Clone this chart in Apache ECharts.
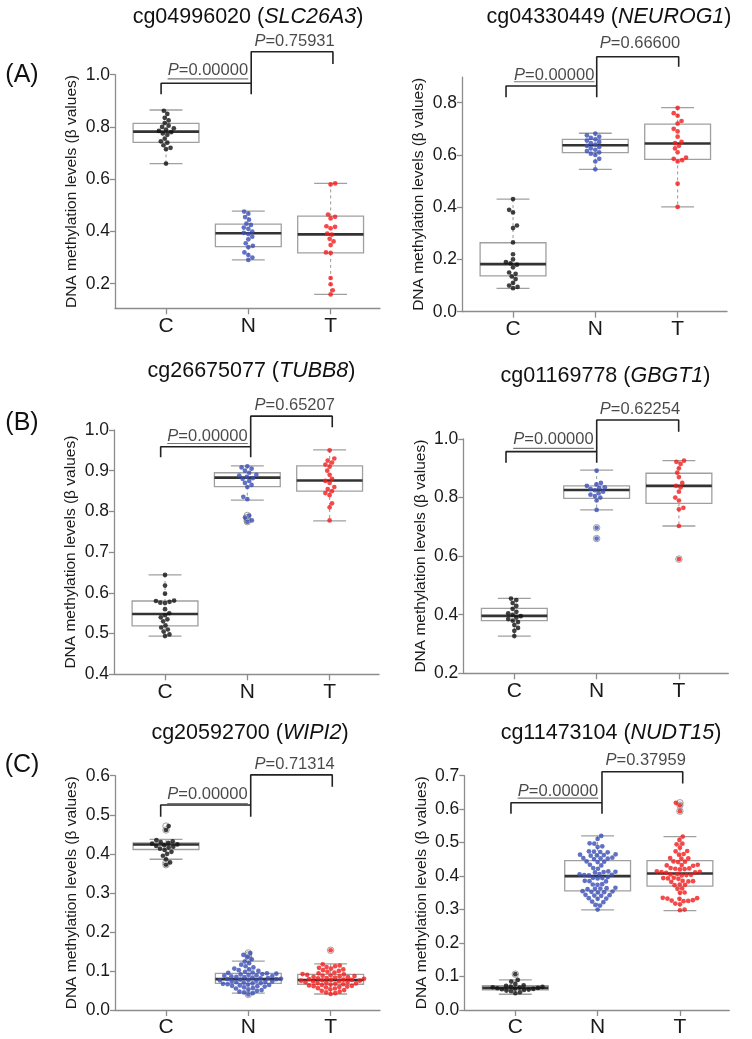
<!DOCTYPE html>
<html><head><meta charset="utf-8">
<script src="https://cdn.jsdelivr.net/npm/echarts@6/dist/echarts.min.js"></script>
<style>html,body{margin:0;padding:0;background:#fff}#c{width:752px;height:1039px}</style>
</head><body><div id="c"></div>
<script>
// ---------------- DATA ----------------
const groups = ['C', 'N', 'T'];
const probes = ['cg04996020', 'cg04330449', 'cg26675077', 'cg01169778', 'cg20592700', 'cg11473104'];
const genes = ['SLC26A3', 'NEUROG1', 'TUBB8', 'GBGT1', 'WIPI2', 'NUDT15'];
const pCN = ['0.00000', '0.00000', '0.00000', '0.00000', '0.00000', '0.00000'];
const pNT = ['0.75931', '0.66600', '0.65207', '0.62254', '0.71314', '0.37959'];
const panelTags = ['(A)', '(B)', '(C)'];
const yTitle = 'DNA methylation levels (β values)';

const yTicks1 = [0.2, 0.4, 0.6, 0.8, 1.0];
const yTicks2 = [0.0, 0.2, 0.4, 0.6, 0.8];
const yTicks3 = [0.4, 0.5, 0.6, 0.7, 0.8, 0.9, 1.0];
const yTicks4 = [0.2, 0.4, 0.6, 0.8, 1.0];
const yTicks5 = [0.0, 0.1, 0.2, 0.3, 0.4, 0.5, 0.6];
const yTicks6 = [0.0, 0.1, 0.2, 0.3, 0.4, 0.5, 0.6, 0.7];

// box statistics [lower whisker, Q1, median, Q3, upper whisker] for C, N, T
const box1 = [[0.660, 0.741, 0.782, 0.814, 0.865], [0.291, 0.342, 0.393, 0.428, 0.478], [0.159, 0.318, 0.389, 0.459, 0.584]];
const box2 = [[0.089, 0.137, 0.182, 0.264, 0.431], [0.545, 0.609, 0.637, 0.660, 0.683], [0.401, 0.583, 0.644, 0.718, 0.781]];
const box3 = [[0.494, 0.519, 0.548, 0.580, 0.644], [0.828, 0.861, 0.883, 0.895, 0.912], [0.777, 0.850, 0.876, 0.912, 0.951]];
const box4 = [[0.327, 0.380, 0.396, 0.422, 0.456], [0.758, 0.797, 0.826, 0.840, 0.894], [0.703, 0.780, 0.840, 0.883, 0.926]];
const box5 = [[0.386, 0.411, 0.424, 0.428, 0.437], [0.043, 0.068, 0.079, 0.094, 0.125], [0.041, 0.066, 0.077, 0.091, 0.118]];
const box6 = [[0.047, 0.060, 0.066, 0.073, 0.090], [0.299, 0.356, 0.400, 0.446, 0.520], [0.297, 0.370, 0.408, 0.446, 0.518]];

// individual samples
const p1C = [0.660, 0.715, 0.720, 0.730, 0.740, 0.745, 0.755, 0.770, 0.775, 0.780, 0.785, 0.790, 0.795, 0.800, 0.805, 0.815, 0.825, 0.835, 0.850, 0.862];
const p1N = [0.291, 0.300, 0.310, 0.320, 0.340, 0.345, 0.355, 0.370, 0.380, 0.390, 0.395, 0.400, 0.410, 0.415, 0.425, 0.430, 0.445, 0.455, 0.468, 0.476];
const p1T = [0.159, 0.175, 0.198, 0.222, 0.318, 0.320, 0.348, 0.362, 0.372, 0.388, 0.392, 0.412, 0.418, 0.420, 0.450, 0.456, 0.465, 0.580, 0.584];

const p2C = [0.090, 0.095, 0.100, 0.110, 0.125, 0.135, 0.145, 0.150, 0.170, 0.180, 0.185, 0.190, 0.200, 0.220, 0.265, 0.320, 0.330, 0.380, 0.390, 0.431];
const p2N = [0.545, 0.575, 0.585, 0.600, 0.605, 0.610, 0.615, 0.620, 0.625, 0.630, 0.635, 0.640, 0.645, 0.650, 0.655, 0.660, 0.665, 0.670, 0.675, 0.682];
const p2T = [0.401, 0.490, 0.575, 0.580, 0.585, 0.590, 0.610, 0.625, 0.635, 0.645, 0.650, 0.670, 0.690, 0.700, 0.720, 0.730, 0.750, 0.760, 0.780];

const p3C = [0.494, 0.498, 0.505, 0.510, 0.515, 0.520, 0.530, 0.535, 0.540, 0.545, 0.550, 0.560, 0.575, 0.576, 0.578, 0.580, 0.581, 0.598, 0.618, 0.644];
const p3N = [0.775, 0.778, 0.785, 0.790, 0.830, 0.836, 0.860, 0.865, 0.870, 0.875, 0.880, 0.882, 0.885, 0.888, 0.890, 0.895, 0.900, 0.905, 0.908, 0.911];
const p3T = [0.778, 0.810, 0.820, 0.840, 0.845, 0.850, 0.855, 0.860, 0.870, 0.875, 0.880, 0.890, 0.900, 0.910, 0.915, 0.920, 0.925, 0.930, 0.950];

const p4C = [0.327, 0.345, 0.355, 0.365, 0.375, 0.380, 0.385, 0.390, 0.395, 0.400, 0.405, 0.410, 0.420, 0.430, 0.440, 0.450, 0.455];
const p4N = [0.660, 0.697, 0.758, 0.790, 0.800, 0.805, 0.810, 0.815, 0.820, 0.825, 0.830, 0.832, 0.835, 0.840, 0.845, 0.850, 0.892];
const p4T = [0.590, 0.703, 0.760, 0.765, 0.790, 0.800, 0.820, 0.835, 0.840, 0.850, 0.870, 0.885, 0.900, 0.915, 0.922, 0.926];

const p5C = [0.372, 0.378, 0.386, 0.395, 0.400, 0.405, 0.410, 0.413, 0.416, 0.418, 0.420, 0.422, 0.424, 0.426, 0.428, 0.430, 0.432, 0.435, 0.461, 0.471];
const p5N = [0.040, 0.043, 0.045, 0.047, 0.049, 0.051, 0.053, 0.055, 0.056, 0.058, 0.060, 0.061, 0.062, 0.063, 0.064, 0.065, 0.066, 0.067, 0.068, 0.069,
  0.070, 0.071, 0.072, 0.073, 0.074, 0.075, 0.076, 0.077, 0.078, 0.079, 0.079, 0.080, 0.081, 0.082, 0.083, 0.084, 0.085, 0.086, 0.087, 0.088, 0.089,
  0.090, 0.091, 0.092, 0.093, 0.094, 0.095, 0.096, 0.098, 0.100, 0.102, 0.104, 0.106, 0.109, 0.112, 0.116, 0.120, 0.124, 0.130, 0.136, 0.141, 0.146];
const p5T = [0.041, 0.043, 0.045, 0.047, 0.049, 0.051, 0.053, 0.055, 0.056, 0.058, 0.059, 0.060, 0.061, 0.062, 0.063, 0.064, 0.065, 0.066, 0.067, 0.068,
  0.069, 0.070, 0.071, 0.072, 0.073, 0.074, 0.075, 0.075, 0.076, 0.077, 0.077, 0.078, 0.079, 0.080, 0.081, 0.082, 0.083, 0.084, 0.085, 0.086, 0.087,
  0.088, 0.089, 0.090, 0.091, 0.092, 0.094, 0.096, 0.098, 0.100, 0.102, 0.104, 0.106, 0.108, 0.110, 0.112, 0.114, 0.117, 0.153];

const p6C = [0.050, 0.053, 0.056, 0.058, 0.060, 0.061, 0.062, 0.063, 0.064, 0.065, 0.066, 0.067, 0.068, 0.069, 0.070, 0.072, 0.074, 0.078, 0.085, 0.090, 0.107];
const p6N = [0.520, 0.511, 0.498, 0.497, 0.489, 0.487, 0.474, 0.473, 0.472, 0.471, 0.465, 0.464, 0.463, 0.462, 0.461, 0.455, 0.454, 0.453, 0.452, 0.451,
  0.444, 0.443, 0.442, 0.434, 0.432, 0.424, 0.422, 0.414, 0.413, 0.412, 0.411, 0.406, 0.405, 0.404, 0.403, 0.402, 0.397, 0.395, 0.394, 0.393,
  0.386, 0.385, 0.384, 0.376, 0.375, 0.374, 0.365, 0.364, 0.363, 0.362, 0.361, 0.355, 0.354, 0.353, 0.352, 0.351, 0.344, 0.343, 0.342, 0.341,
  0.334, 0.333, 0.332, 0.324, 0.322, 0.314, 0.312, 0.300];
const p6T = [0.619, 0.612, 0.594, 0.518, 0.508, 0.497, 0.495, 0.485, 0.475, 0.474, 0.466, 0.464, 0.454, 0.453, 0.452, 0.444, 0.443, 0.442,
  0.434, 0.433, 0.432, 0.431, 0.424, 0.423, 0.422, 0.421, 0.420, 0.414, 0.413, 0.412, 0.411, 0.410, 0.406, 0.405, 0.404, 0.403, 0.402,
  0.395, 0.394, 0.393, 0.392, 0.386, 0.385, 0.384, 0.383, 0.375, 0.374, 0.373, 0.363, 0.362, 0.351, 0.350, 0.335, 0.334, 0.333, 0.332,
  0.328, 0.327, 0.326, 0.325, 0.318, 0.316, 0.300, 0.298];

// ---------------- LAYOUT ----------------
const FONT = "'Liberation Sans', Arial, Helvetica, sans-serif";
const W = 265, XMIN = 0.38, XMAX = 3.6;
const layout = [
  {left: 115,   top: 74.7,  height: 233.6, ymin: 0.106, ymax: 1.0,   title: [248, 17],
   bx: [0.94, 2.035, 3.028], by: [0.925, 0.967, 0.925, 1.088, 1.041], txt: [1.509, 1.015, 2.562, 1.126], ul: 0.984},
  {left: 462,   top: 77.1,  height: 234.6, ymin: 0.0,   ymax: 0.898, title: [609, 17],
   bx: [0.915, 2.017, 3.013], by: [0.821, 0.864, 0.821, 0.976, 0.938], txt: [1.50, 0.906, 2.543, 1.027], ul: 0.880},
  {left: 114,   top: 430,   height: 244.3, ymin: 0.4,   ymax: 1.0,   title: [251.5, 371],
   bx: [0.947, 2.041, 3.032], by: [0.933, 0.959, 0.933, 1.034, 1.007], txt: [1.516, 0.985, 2.576, 1.061], ul: 0.967},
  {left: 463.3, top: 439,   height: 234.3, ymin: 0.2,   ymax: 1.0,   title: [605.5, 376],
   bx: [0.899, 2.001, 2.997], by: [0.919, 0.957, 0.919, 1.065, 1.025], txt: [1.476, 0.999, 2.527, 1.101], ul: 0.968},
  {left: 115,   top: 775.7, height: 234.3, ymin: 0.0,   ymax: 0.6,   title: [250, 733],
   bx: [0.935, 2.029, 3.020], by: [0.495, 0.525, 0.495, 0.602, 0.572], txt: [1.504, 0.551, 2.563, 0.630], ul: 0.529},
  {left: 464.3, top: 775.7, height: 234.3, ymin: 0.0,   ymax: 0.7,   title: [611, 733],
   bx: [0.947, 2.053, 3.034], by: [0.586, 0.619, 0.586, 0.712, 0.677], txt: [1.518, 0.652, 2.584, 0.747], ul: 0.633}
];
const tagPos = [[22, 75], [22, 423], [22, 765]];
const yTicks = [yTicks1, yTicks2, yTicks3, yTicks4, yTicks5, yTicks6];
const boxes = [box1, box2, box3, box4, box5, box6];
const dots = [[p1C, p1N, p1T], [p2C, p2N, p2T], [p3C, p3N, p3T], [p4C, p4N, p4T], [p5C, p5N, p5T], [p6C, p6N, p6T]];
const dotColors = ['#111111', '#3a4db5', '#f21c1c'];
const AXIS = '#8c8c8c', BOXC = '#a0a0a0', TXT = '#1a1a1a';
const pxPerX = W / (XMAX - XMIN);
const DOT = 4.7, SWARM_D = 4.7;

// beeswarm layout: offsets (px) so dots do not overlap
function swarm(vals, ppy, d) {
  const order = vals.map((v, i) => i).sort((a, b) => vals[a] - vals[b]);
  const placed = [], out = new Array(vals.length);
  let side = 1;
  for (const i of order) {
    const y = vals[i] * ppy;
    const near = placed.filter(p => Math.abs(p.y - y) < d);
    const cands = [0];
    near.forEach(p => { const dx = Math.sqrt(d * d - (p.y - y) * (p.y - y)); cands.push(p.x + dx, p.x - dx); });
    cands.sort((a, b) => (Math.round((Math.abs(a) - Math.abs(b)) * 1000)) || (side * (b - a)));
    let x = 0;
    for (const c of cands) {
      if (near.every(p => (p.x - c) * (p.x - c) + (p.y - y) * (p.y - y) >= d * d - 1e-6)) { x = c; break; }
    }
    if (x !== 0) side = -Math.sign(x);
    placed.push({x, y}); out[i] = x;
  }
  return out;
}

const series = [];
layout.forEach((L, i) => {
  const axes = {xAxisIndex: i, yAxisIndex: i};
  const ppy = L.height / (L.ymax - L.ymin);
  // boxes
  series.push(Object.assign({
    type: 'custom', z: 2, silent: true,
    data: boxes[i].map((b, j) => [j + 1].concat(b)),
    encode: {x: 0, y: [1, 2, 3, 4, 5]},
    renderItem: (params, api) => {
      const x = api.value(0);
      const lo = api.value(1), q1 = api.value(2), md = api.value(3), q3 = api.value(4), hi = api.value(5);
      const hw = 0.4, cw = 0.2;
      const a = api.coord([x - hw, q3]), b = api.coord([x + hw, q1]);
      const m1 = api.coord([x - hw, md]), m2 = api.coord([x + hw, md]);
      const cTop1 = api.coord([x - cw, hi]), cTop2 = api.coord([x + cw, hi]);
      const cBot1 = api.coord([x - cw, lo]), cBot2 = api.coord([x + cw, lo]);
      const c = api.coord([x, q3]), cq1 = api.coord([x, q1]);
      const thin = {stroke: BOXC, lineWidth: 1.3, fill: null};
      const dash = {stroke: BOXC, lineWidth: 1.1, lineDash: [3, 3]};
      return {type: 'group', children: [
        {type: 'line', shape: {x1: c[0], y1: cTop1[1], x2: c[0], y2: c[1]}, style: dash},
        {type: 'line', shape: {x1: c[0], y1: cq1[1], x2: c[0], y2: cBot1[1]}, style: dash},
        {type: 'line', shape: {x1: cTop1[0], y1: cTop1[1], x2: cTop2[0], y2: cTop2[1]}, style: thin},
        {type: 'line', shape: {x1: cBot1[0], y1: cBot1[1], x2: cBot2[0], y2: cBot2[1]}, style: thin},
        {type: 'rect', shape: {x: a[0], y: a[1], width: b[0] - a[0], height: b[1] - a[1]}, style: {stroke: BOXC, lineWidth: 1.3, fill: '#ffffff'}},
        {type: 'line', shape: {x1: m1[0], y1: m1[1], x2: m2[0], y2: m2[1]}, style: {stroke: '#333333', lineWidth: 2.6}}
      ]};
    }
  }, axes));
  // outlier circles (boxplot style)
  const outl = [];
  dots[i].forEach((vals, j) => vals.forEach(v => {
    if (v < boxes[i][j][0] - 1e-4 || v > boxes[i][j][4] + 1e-4) outl.push([j + 1, v]);
  }));
  series.push(Object.assign({
    type: 'scatter', z: 3, silent: true, symbol: 'circle', symbolSize: 6.5, data: outl,
    itemStyle: {color: 'rgba(0,0,0,0)', borderColor: '#888888', borderWidth: 1}
  }, axes));
  // beeswarm dots
  dots[i].forEach((vals, j) => {
    const off = swarm(vals, ppy, SWARM_D);
    series.push(Object.assign({
      type: 'scatter', z: 4, silent: true, symbol: 'circle', symbolSize: DOT,
      data: vals.map((v, k) => [j + 1 + off[k] / pxPerX, v]),
      itemStyle: {color: dotColors[j]}
    }, axes));
  });
  // significance brackets
  const [x1, x2, x3] = L.bx, [lc, tcn, ln, tnt, lt] = L.by;
  const lineBase = {type: 'line', z: 5, silent: true, clip: false, symbol: 'none', lineStyle: {color: '#222222', width: 1.6}};
  series.push(Object.assign({}, lineBase, {data: [[x1, lc], [x1, tcn], [x2, tcn], [x2, ln]]}, axes));
  series.push(Object.assign({}, lineBase, {data: [[x2, tcn], [x2, tnt], [x3, tnt], [x3, lt]]}, axes));
  series.push(Object.assign({}, lineBase, {lineStyle: {color: '#777777', width: 1.1},
    data: [[L.txt[0] - 0.49, L.ul], [L.txt[0] + 0.49, L.ul]]}, axes));
  // p-value texts
  const rich = {i: {fontStyle: 'italic', fontSize: 16.5, fontFamily: FONT, color: TXT}, n: {fontSize: 16.5, fontFamily: FONT, color: TXT}};
  series.push(Object.assign({
    type: 'scatter', z: 6, silent: true, clip: false, symbolSize: 0.1, itemStyle: {color: 'rgba(0,0,0,0)'},
    data: [
      {value: [L.txt[0], L.txt[1]], label: {formatter: '{i|P}{n|=' + pCN[i] + '}'}},
      {value: [L.txt[2], L.txt[3]], label: {formatter: '{i|P}{n|=' + pNT[i] + '}'}}
    ],
    label: {show: true, position: 'inside', rich: rich}
  }, axes));
});

const graphic = [];
layout.forEach((L, i) => {
  graphic.push({type: 'text', x: L.title[0], y: L.title[1], silent: true, style: {
    text: '{n|' + probes[i] + ' (}{i|' + genes[i] + '}{n|)}',
    rich: {n: {fontSize: 21.5, fontFamily: FONT, fill: '#111'}, i: {fontSize: 21.5, fontFamily: FONT, fontStyle: 'italic', fill: '#111'}},
    align: 'center', verticalAlign: 'middle', textAlign: 'center', textVerticalAlign: 'middle'
  }});
});
panelTags.forEach((t, k) => {
  graphic.push({type: 'text', x: tagPos[k][0], y: tagPos[k][1], silent: true, style: {
    text: t, fontSize: 25, fontFamily: FONT, fill: '#111', align: 'center', verticalAlign: 'middle', textAlign: 'center', textVerticalAlign: 'middle'
  }});
});

const option = {
  animation: false,
  backgroundColor: '#ffffff',
  textStyle: {fontFamily: FONT},
  grid: layout.map(L => ({left: L.left, top: L.top, width: W, height: L.height, containLabel: false})),
  xAxis: layout.map((L, i) => ({
    gridIndex: i, type: 'value', min: XMIN, max: XMAX, splitLine: {show: false},
    axisLine: {show: true, onZero: false, lineStyle: {color: AXIS, width: 1.3}},
    axisTick: {show: true, length: 6, customValues: [1, 2, 3], lineStyle: {color: AXIS, width: 1.3}},
    axisLabel: {customValues: [1, 2, 3], formatter: v => groups[Math.round(v) - 1], fontSize: 21, color: TXT, margin: 7, fontFamily: FONT}
  })),
  yAxis: layout.map((L, i) => ({
    gridIndex: i, type: 'value', min: L.ymin, max: L.ymax, splitLine: {show: false},
    axisLine: {show: true, onZero: false, lineStyle: {color: AXIS, width: 1.3}},
    axisTick: {show: true, length: 5, customValues: yTicks[i], lineStyle: {color: AXIS, width: 1.3}},
    axisLabel: {customValues: yTicks[i], formatter: v => v.toFixed(1), fontSize: 17.5, color: TXT, margin: 5, fontFamily: FONT},
    name: yTitle, nameLocation: 'middle', nameGap: 35, nameRotate: 90,
    nameTextStyle: {fontSize: 15.5, color: TXT, fontFamily: FONT}
  })),
  series: series,
  graphic: graphic
};
const chart = echarts.init(document.getElementById('c'));
chart.setOption(option);
</script></body></html>
